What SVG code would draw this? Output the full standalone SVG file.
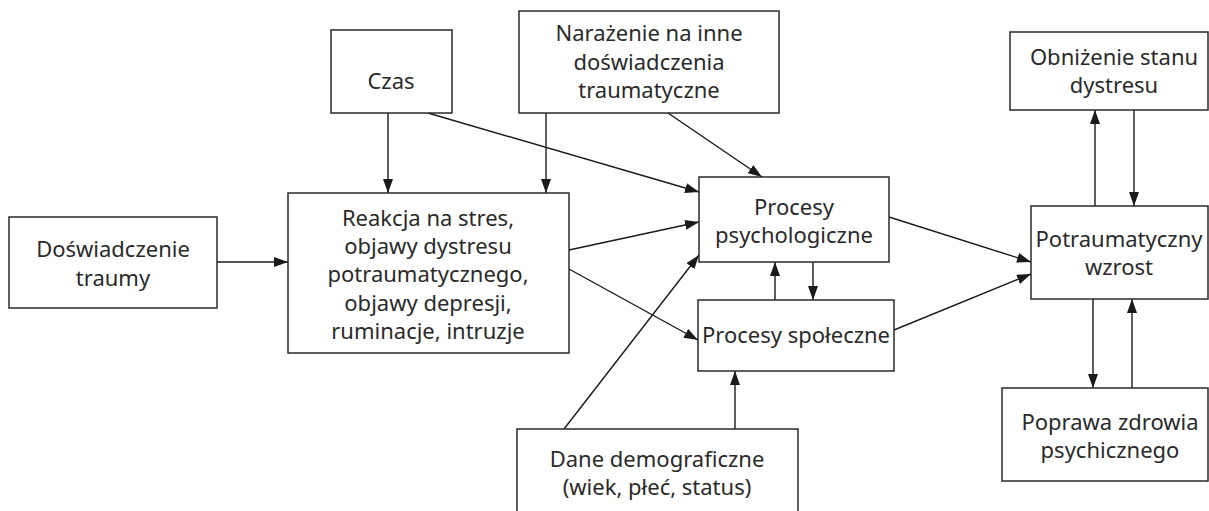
<svg xmlns="http://www.w3.org/2000/svg" width="1209" height="511" viewBox="0 0 1209 511">
<defs>
<marker id="ah" viewBox="0 0 14 10" refX="14" refY="5" markerWidth="14" markerHeight="10" markerUnits="userSpaceOnUse" orient="auto">
<path d="M0,0 L14,5 L0,10 z" fill="#1a1a1a"/>
</marker>
<style>
rect{fill:#fff;stroke:#2a2a2a;stroke-width:1.5}
text{font-family:"Noto Sans","Open Sans","DejaVu Sans",sans-serif;font-size:22px;fill:#2a2a2a;text-anchor:middle;font-weight:400}
.c line{stroke:#1a1a1a;stroke-width:1.4;marker-end:url(#ah)}
</style>
</defs>
<rect x="0" y="0" width="1209" height="511" style="fill:#fff;stroke:none"/>
<g class="c" id="connectors">
<line x1="217" y1="262" x2="288" y2="262"/>
<line x1="388" y1="113" x2="388" y2="193"/>
<line x1="546" y1="113" x2="546" y2="193"/>
<line x1="428" y1="113" x2="699" y2="192"/>
<line x1="668" y1="113" x2="762" y2="177"/>
<line x1="569" y1="250" x2="699" y2="222"/>
<line x1="569" y1="269" x2="698" y2="340"/>
<line x1="564" y1="429" x2="699" y2="255"/>
<line x1="735" y1="429" x2="735" y2="371"/>
<line x1="775" y1="300" x2="775" y2="262"/>
<line x1="813" y1="262" x2="813" y2="300"/>
<line x1="889" y1="217" x2="1031" y2="262"/>
<line x1="894" y1="330" x2="1031" y2="274"/>
<line x1="1095" y1="206" x2="1095" y2="110"/>
<line x1="1134" y1="110" x2="1134" y2="206"/>
<line x1="1093" y1="299" x2="1093" y2="388"/>
<line x1="1132" y1="388" x2="1132" y2="299"/>
</g>
<g id="trauma"><rect x="9" y="217" width="208" height="91"/><text x="113" y="257">Doświadczenie</text><text x="113" y="286">traumy</text></g>
<g id="czas"><rect x="331" y="30" width="121" height="83"/><text x="391" y="89">Czas</text></g>
<g id="narazenie"><rect x="519" y="11" width="260" height="102"/><text x="649" y="41">Narażenie na inne</text><text x="649" y="70">doświadczenia</text><text x="649" y="98">traumatyczne</text></g>
<g id="reakcja"><rect x="288" y="193" width="281" height="160"/><text x="428" y="226">Reakcja na stres,</text><text x="428" y="254">objawy dystresu</text><text x="428" y="282">potraumatycznego,</text><text x="428" y="311">objawy depresji,</text><text x="428" y="339">ruminacje, intruzje</text></g>
<g id="psych"><rect x="699" y="177" width="190" height="85"/><text x="794" y="215">Procesy</text><text x="794" y="243">psychologiczne</text></g>
<g id="spol"><rect x="698" y="300" width="196" height="71"/><text x="796" y="343">Procesy społeczne</text></g>
<g id="dane"><rect x="517" y="429" width="281" height="95"/><text x="657" y="467">Dane demograficzne</text><text x="657" y="495">(wiek, płeć, status)</text></g>
<g id="wzrost"><rect x="1031" y="206" width="177" height="93"/><text x="1119" y="247">Potraumatyczny</text><text x="1119" y="275">wzrost</text></g>
<g id="obnizenie"><rect x="1010" y="32" width="198" height="78"/><text x="1114" y="65">Obniżenie stanu</text><text x="1114" y="93">dystresu</text></g>
<g id="poprawa"><rect x="1002" y="388" width="206" height="93"/><text x="1110" y="430">Poprawa zdrowia</text><text x="1110" y="458">psychicznego</text></g>
</svg>
